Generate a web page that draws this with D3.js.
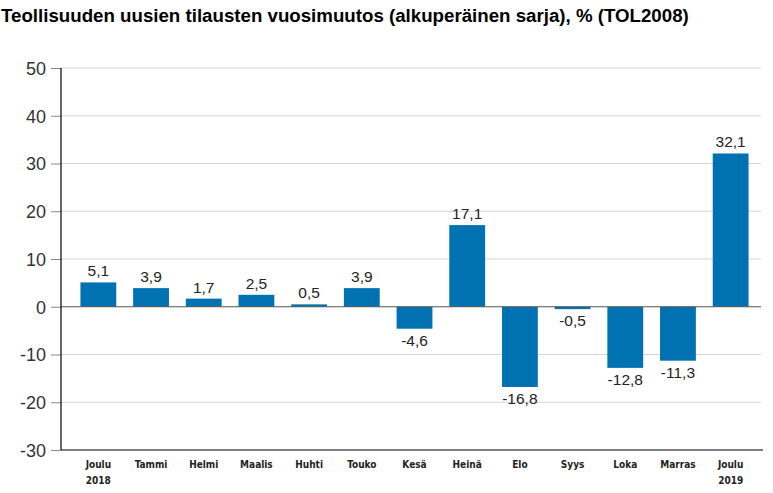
<!DOCTYPE html>
<html>
<head>
<meta charset="utf-8">
<script src="https://cdn.jsdelivr.net/npm/d3@7"></script>
<style>
  body { margin: 0; background: #fff; }
  .chartTitle { font-family: "Liberation Sans", Arial, sans-serif; font-weight: bold; font-size: 18.7px; fill: #000; }
  .y.axis text { font-family: "Liberation Sans", Arial, sans-serif; font-size: 18px; fill: #333; }
  .xlabel { font-family: "DejaVu Sans Condensed", "DejaVu Sans", sans-serif; font-weight: bold; font-size: 10px; fill: #222; }
  .vlabel { font-family: "Liberation Sans", Arial, sans-serif; font-size: 15.5px; fill: #222; }
</style>
</head>
<body>
<div id="chart"></div>
<script>
// data
let months = ['Joulu|2018', 'Tammi', 'Helmi', 'Maalis', 'Huhti', 'Touko', 'Kesä', 'Heinä', 'Elo', 'Syys', 'Loka', 'Marras', 'Joulu|2019'];
let values = [5.1, 3.9, 1.7, 2.5, 0.5, 3.9, -4.6, 17.1, -16.8, -0.5, -12.8, -11.3, 32.1];
let yTicks = [-30, -20, -10, 0, 10, 20, 30, 40, 50];

let width = 773,
  height = 493;

let svg = d3.select('#chart')
  .append('svg')
  .attr('width', width)
  .attr('height', height);

// title
svg.append('text')
  .attr('x', 1)
  .attr('y', 22)
  .attr('class', 'chartTitle')
  .text('Teollisuuden uusien tilausten vuosimuutos (alkuperäinen sarja), % (TOL2008)');

let axisX = 61, plotRight = 761;

let yScale = d3.scaleLinear()
  .domain([-30, 50])
  .range([450, 68]);

let xScale = d3.scaleBand()
  .domain(months)
  .range([72, 757])
  .paddingInner(0.32)
  .paddingOuter(0.16);

// gridlines
svg.append('g')
  .selectAll('line')
  .data(yTicks.filter(d => d != 0 && d != -30))
  .enter()
  .append('line')
    .attr('x1', axisX)
    .attr('x2', plotRight)
    .attr('y1', d => yScale(d))
    .attr('y2', d => yScale(d))
    .style('stroke', '#d4d4d4')
    .style('stroke-width', 1);

// y axis (plain hyphen for negatives, like the original)
let yAxis = d3.axisLeft(yScale)
  .tickValues(yTicks)
  .tickSize(10)
  .tickPadding(5)
  .tickFormat(d => String(d));
let yg = svg.append('g')
  .attr('class', 'y axis')
  .attr('transform', `translate(${axisX},0)`)
  .call(yAxis);
yg.select('.domain').remove();
yg.selectAll('.tick line').style('stroke', '#888');
yg.selectAll('.tick text').attr('dy', '0.36em');

// bars
svg.append('g')
  .selectAll('rect')
  .data(values)
  .enter()
  .append('rect')
    .attr('x', (d, i) => xScale(months[i]))
    .attr('width', xScale.bandwidth())
    .attr('y', d => yScale(Math.max(0, d)))
    .attr('height', d => Math.abs(yScale(d) - yScale(0)))
    .attr('fill', '#0072b2');

// zero line
svg.append('line')
  .attr('x1', axisX)
  .attr('x2', plotRight)
  .attr('y1', yScale(0))
  .attr('y2', yScale(0))
  .style('stroke', '#555')
  .style('stroke-width', 1.2);

// axis lines
svg.append('line')
  .attr('x1', axisX).attr('x2', axisX)
  .attr('y1', yScale(50)).attr('y2', yScale(-30))
  .style('stroke', '#000').style('stroke-width', 1.2);
svg.append('line')
  .attr('x1', axisX).attr('x2', 763)
  .attr('y1', yScale(-30)).attr('y2', yScale(-30))
  .style('stroke', '#000').style('stroke-width', 1.2);

// value labels
let fmt = d => d3.format('.1f')(d).replace('.', ',').replace('−', '-');
svg.append('g')
  .selectAll('text')
  .data(values)
  .enter()
  .append('text')
    .attr('class', 'vlabel')
    .attr('x', (d, i) => xScale(months[i]) + xScale.bandwidth() / 2)
    .attr('y', d => d >= 0 ? yScale(d) - 6 : yScale(d) + 17)
    .style('text-anchor', 'middle')
    .text(fmt);

// x labels
let xl = svg.append('g')
  .selectAll('text')
  .data(months)
  .enter()
  .append('text')
    .attr('class', 'xlabel')
    .attr('x', d => xScale(d) + xScale.bandwidth() / 2)
    .attr('y', 468)
    .style('text-anchor', 'middle');
xl.each(function(d) {
  let parts = d.split('|');
  d3.select(this).selectAll('tspan')
    .data(parts)
    .enter()
    .append('tspan')
      .attr('x', xScale(d) + xScale.bandwidth() / 2)
      .attr('dy', (p, j) => j == 0 ? 0 : 16)
      .text(p => p);
});
</script>
</body>
</html>
